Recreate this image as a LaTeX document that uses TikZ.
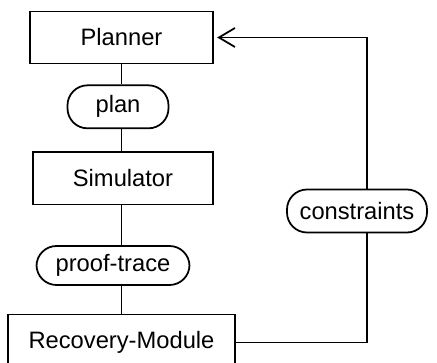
\documentclass[tikz,border=0pt]{standalone}
\usepackage{fontspec}
\setmainfont{Liberation Sans}
\usepackage{tikz}
\usetikzlibrary{positioning, arrows.meta}

\begin{document}
\begin{tikzpicture}[
  every node/.style={font=\fontsize{13.5}{16}\selectfont},
  modbox/.style={
    rectangle, draw=black, line width=0.8pt,
    minimum height=1.05cm, inner sep=0pt
  },
  datablob/.style={
    rectangle, rounded corners=0.4cm, draw=black, line width=1pt,
    minimum height=#1, inner sep=0pt
  },
  datablob/.default=0.86cm,
  link/.style={black, line width=1pt},
]
\useasboundingbox (0,0) rectangle (8.74,7.24);

% Modules on the left
\node[modbox, minimum width=3.66cm] (planner) at (2.43,6.49) {Planner};
\node[datablob, minimum width=2.02cm, below=0.4cm of planner, xshift=-0.07cm] (plan) {plan};
\node[modbox, minimum width=3.6cm, below=0.44cm of plan, xshift=0.1cm] (sim) {Simulator};
\node[datablob=0.78cm, minimum width=3.06cm, below=0.8cm of sim, xshift=-0.2cm] (trace) {proof-trace};
\node[modbox, minimum width=4.54cm, minimum height=1.12cm, below=0.56cm of trace, xshift=0.17cm] (recovery) {Recovery-Module};

% Feedback label
\node[datablob, minimum width=2.8cm] (cons) at (7.14,3.02) {constraints};

% Connections
\draw[link] (planner.south) -- (planner.south |- plan.north);
\draw[link] (planner.south |- plan.south) -- (planner.south |- sim.north);
\draw[link] (planner.south |- sim.south) -- (planner.south |- trace.north);
\draw[link] (planner.south |- trace.south) -- (planner.south |- recovery.north);

% Feedback loop
\draw[link] (recovery.east) -| ([xshift=0.2cm]cons.south);
\draw[link, -{Straight Barb[length=0.32cm, width=0.38cm]}, shorten >=2pt]
  ([xshift=0.2cm]cons.north) |- (planner.east);

\end{tikzpicture}
\end{document}
